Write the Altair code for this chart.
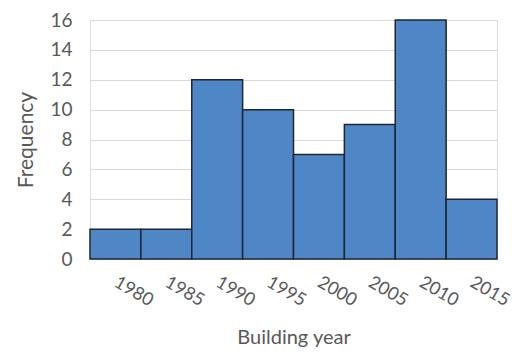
import altair as alt
import pandas as pd

years = ["1980", "1985", "1990", "1995", "2000", "2005", "2010", "2015"]
freq = [2, 2, 12, 10, 7, 9, 16, 4]

df = pd.DataFrame({"year": years, "freq": freq})

chart = alt.Chart(df).mark_bar(
    color="#4f86c6", stroke="#1c2733", strokeWidth=1.5
).encode(
    x=alt.X("year:O", sort=years,
            scale=alt.Scale(paddingInner=0, paddingOuter=0),
            axis=alt.Axis(title="Building year", labelAngle=30, labelAlign="left",
                          labelBaseline="middle", labelPadding=22, ticks=False,
                          domain=False, titlePadding=18, labelFontSize=18,
                          titleFontSize=20, labelColor="#595959", titleColor="#595959",
                          labelFont="Lato", titleFont="Lato", titleFontWeight="normal")),
    y=alt.Y("freq:Q", scale=alt.Scale(domain=[0, 16]),
            axis=alt.Axis(title="Frequency", values=list(range(0, 17, 2)), ticks=False,
                          domain=False, labelPadding=18, titlePadding=13,
                          gridColor="#d9d9d9", gridWidth=1.2,
                          labelFontSize=19, titleFontSize=21, labelColor="#595959",
                          titleColor="#595959", labelFont="Lato", titleFont="Lato",
                          titleFontWeight="normal")),
).properties(
    width=407, height=239,
    autosize=alt.AutoSizeParams(type="none"),
    padding={"left": 90, "top": 20, "right": 20, "bottom": 95},
).configure_view(stroke=None).configure(background="white")

chart.save("out.html", embed_options={"renderer": "svg", "actions": False})
